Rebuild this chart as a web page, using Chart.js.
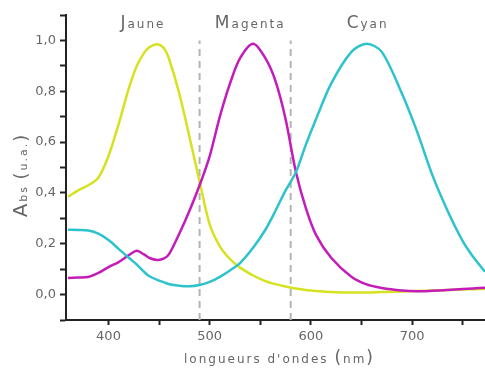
<!DOCTYPE html>
<html>
<head>
<meta charset="utf-8">
<script src="https://cdn.jsdelivr.net/npm/chart.js@4/dist/chart.umd.min.js"></script>
<style>
  html, body { margin: 0; padding: 0; background: #fff; }
  #wrap { width: 485px; height: 369px; }
</style>
</head>
<body>
<div id="wrap"><canvas id="spectre"></canvas></div>
<script>
// longueurs d'onde (nm) communes aux trois courbes
const longueurs = [360, 370, 380, 390, 400, 410, 420, 428, 435, 440, 448, 455, 460, 470, 480, 490, 500, 510, 520, 530,
  543, 555, 565, 575, 585, 595, 605, 620, 640, 655, 670, 690, 705, 720, 735, 750, 760, 772];

const jaune = [0.385, 0.41, 0.43, 0.46, 0.545, 0.67, 0.81, 0.90, 0.95, 0.972, 0.985, 0.968, 0.925, 0.79, 0.62, 0.445, 0.275, 0.19, 0.14, 0.106,
  0.075, 0.053, 0.041, 0.032, 0.024, 0.018, 0.014, 0.010, 0.008, 0.008, 0.010, 0.012, 0.014, 0.016, 0.018, 0.020, 0.021, 0.022];

const magenta = [0.065, 0.067, 0.069, 0.085, 0.108, 0.128, 0.155, 0.172, 0.158, 0.145, 0.136, 0.142, 0.16, 0.24, 0.33, 0.43, 0.545, 0.70, 0.83, 0.93,
  0.987, 0.93, 0.84, 0.69, 0.485, 0.34, 0.235, 0.145, 0.07, 0.04, 0.026, 0.016, 0.013, 0.015, 0.018, 0.022, 0.024, 0.027];

const cyan = [0.255, 0.254, 0.252, 0.24, 0.215, 0.18, 0.145, 0.118, 0.09, 0.073, 0.058, 0.048, 0.041, 0.035, 0.033, 0.038, 0.05, 0.07, 0.095, 0.124,
  0.185, 0.255, 0.33, 0.41, 0.48, 0.59, 0.69, 0.83, 0.955, 0.987, 0.955, 0.79, 0.64, 0.47, 0.33, 0.21, 0.15, 0.09];

// limites des zones (traits pointillés)
const limites = [490, 580];

const noms = ['Jaune', 'Magenta', 'Cyan'];
const nomsPos = [434, 540, 656];

const ticksX = [400, 450, 500, 550, 600, 650, 700, 750];
const ticksY = [-0.1, 0, 0.1, 0.2, 0.3, 0.4, 0.5, 0.6, 0.7, 0.8, 0.9, 1.0, 1.1];

const FONTE = '"DejaVu Sans", sans-serif';

function serie(valeurs) {
  return longueurs.map((l, i) => ({ x: l, y: valeurs[i] }));
}

function courbe(valeurs, cor) {
  return {
    data: serie(valeurs),
    borderColor: cor,
    borderWidth: 2.5,
    pointRadius: 0,
    tension: 0.3,
    fill: false
  };
}

const pointilles = limites.map(l => ({
  data: [{ x: l, y: -0.1 }, { x: l, y: 1.0 }],
  borderColor: '#b4b4b4',
  borderWidth: 2,
  borderDash: [7, 5],
  pointRadius: 0
}));

// texte avec première lettre plus grande, espacé
function texteMixte(ctx, morceaux, cx, y) {
  ctx.letterSpacing = '2px';
  let total = 0;
  morceaux.forEach(m => {
    ctx.font = m[1] + 'px ' + FONTE;
    total += ctx.measureText(m[0]).width;
  });
  let x = cx - total / 2;
  ctx.textAlign = 'left';
  ctx.textBaseline = 'alphabetic';
  morceaux.forEach(m => {
    ctx.font = m[1] + 'px ' + FONTE;
    ctx.fillText(m[0], x, y);
    x += ctx.measureText(m[0]).width;
  });
}

const textes = {
  id: 'textes',
  afterDraw(chart) {
    const { ctx, scales, chartArea } = chart;
    ctx.save();
    ctx.fillStyle = '#666';
    noms.forEach((n, i) => {
      texteMixte(ctx, [[n[0], 17], [n.slice(1), 12]], scales.x.getPixelForValue(nomsPos[i]), 28);
    });
    texteMixte(ctx, [['longueurs d\'ondes ', 12], ['(', 17], ['nm', 12], [')', 17]],
      (chartArea.left + chartArea.right) / 2 + 4, 363);
    ctx.translate(27, 175);
    ctx.rotate(-Math.PI / 2);
    texteMixte(ctx, [['A', 20], ['bs ', 11], ['(', 18], ['u.a.', 11], [')', 18]], 0, 0);
    ctx.restore();
  }
};

new Chart(document.getElementById('spectre'), {
  type: 'line',
  data: {
    datasets: [courbe(cyan, '#2cc3cc'), courbe(magenta, '#c31cb9'), courbe(jaune, '#d6e21f')].concat(pointilles)
  },
  options: {
    responsive: true,
    maintainAspectRatio: false,
    animation: false,
    layout: { padding: { top: 15, right: 0, left: 0, bottom: 0 } },
    plugins: {
      legend: { display: false },
      tooltip: { enabled: false }
    },
    scales: {
      x: {
        type: 'linear',
        min: 358,
        max: 772,
        afterBuildTicks: s => { s.ticks = ticksX.map(v => ({ value: v })); },
        afterFit: s => { s.height = 49; },
        border: { color: '#222', width: 2 },
        grid: { drawOnChartArea: false, tickLength: 5, tickColor: '#222', tickWidth: 2 },
        ticks: {
          color: '#666',
          padding: 4,
          maxRotation: 0,
          font: { family: FONTE, size: 13 },
          callback: v => (v % 100 === 0 ? String(v) : '')
        }
      },
      y: {
        min: -0.1,
        max: 1.1,
        afterBuildTicks: s => { s.ticks = ticksY.map(v => ({ value: v })); },
        afterFit: s => { s.width = 66; },
        border: { color: '#222', width: 2 },
        grid: { drawOnChartArea: false, tickLength: 6, tickColor: '#222', tickWidth: 2 },
        ticks: {
          color: '#666',
          padding: 4,
          font: { family: FONTE, size: 13 },
          callback: v => {
            const n = Math.round(v * 10);
            return (n >= 0 && n % 2 === 0 && n <= 10) ? (n / 10).toFixed(1).replace('.', ',') : '';
          }
        }
      }
    }
  },
  plugins: [textes]
});
</script>
</body>
</html>
